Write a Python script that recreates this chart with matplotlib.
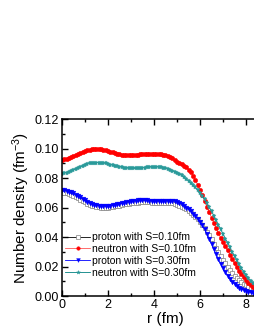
import numpy as np
import matplotlib
matplotlib.use('Agg')
import matplotlib.pyplot as plt
from matplotlib.ticker import MultipleLocator, FormatStrFormatter

plt.rcParams['font.family'] = ['Liberation Sans', 'DejaVu Sans']
plt.rcParams['mathtext.default'] = 'regular'

# radius grid (fm), 0.0 ... 8.5
r = np.round(np.arange(86) * 0.1, 1)

proton_s010 = [
    0.0702, 0.0700, 0.0697, 0.0692, 0.0686, 0.0679, 0.0671, 0.0662, 0.0653, 0.0644,
    0.0635, 0.0627, 0.0620, 0.0614, 0.0609, 0.0605, 0.0602, 0.0600, 0.0599, 0.0599,
    0.0600, 0.0602, 0.0605, 0.0608, 0.0611, 0.0614, 0.0618, 0.0621, 0.0624, 0.0627,
    0.0629, 0.0631, 0.0633, 0.0634, 0.0635, 0.0636, 0.0636, 0.0636, 0.0635, 0.0634,
    0.0633, 0.0632, 0.0632, 0.0632, 0.0632, 0.0632, 0.0631, 0.0630, 0.0628, 0.0625,
    0.0620, 0.0614, 0.0606, 0.0597, 0.0587, 0.0576, 0.0564, 0.0551, 0.0537, 0.0521,
    0.0503, 0.0483, 0.0461, 0.0437, 0.0411, 0.0384, 0.0356, 0.0328, 0.0300, 0.0273,
    0.0247, 0.0222, 0.0199, 0.0177, 0.0157, 0.0139, 0.0123, 0.0108, 0.0095, 0.0083,
    0.0073, 0.0064, 0.0056, 0.0049, 0.0043, 0.0038]

neutron_s010 = [
    0.0925, 0.0928, 0.0932, 0.0937, 0.0943, 0.0950, 0.0957, 0.0964, 0.0971, 0.0978,
    0.0984, 0.0989, 0.0993, 0.0996, 0.0998, 0.0998, 0.0997, 0.0995, 0.0992, 0.0988,
    0.0984, 0.0979, 0.0974, 0.0969, 0.0965, 0.0962, 0.0959, 0.0957, 0.0956, 0.0956,
    0.0956, 0.0957, 0.0958, 0.0960, 0.0961, 0.0963, 0.0964, 0.0965, 0.0966, 0.0966,
    0.0966, 0.0965, 0.0963, 0.0961, 0.0958, 0.0954, 0.0949, 0.0942, 0.0933, 0.0922,
    0.0912, 0.0902, 0.0893, 0.0884, 0.0873, 0.0858, 0.0840, 0.0816, 0.0787, 0.0754,
    0.0719, 0.0682, 0.0644, 0.0606, 0.0568, 0.0531, 0.0495, 0.0460, 0.0426, 0.0394,
    0.0364, 0.0338, 0.0310, 0.0281, 0.0251, 0.0222, 0.0195, 0.0170, 0.0147, 0.0126,
    0.0107, 0.0090, 0.0076, 0.0063, 0.0052, 0.0043]

proton_s030 = [
    0.0719, 0.0717, 0.0714, 0.0709, 0.0703, 0.0696, 0.0688, 0.0679, 0.0669, 0.0659,
    0.0649, 0.0640, 0.0632, 0.0625, 0.0619, 0.0615, 0.0612, 0.0610, 0.0609, 0.0609,
    0.0610, 0.0612, 0.0615, 0.0618, 0.0621, 0.0625, 0.0629, 0.0633, 0.0637, 0.0640,
    0.0643, 0.0645, 0.0647, 0.0648, 0.0649, 0.0649, 0.0649, 0.0648, 0.0647, 0.0646,
    0.0645, 0.0644, 0.0644, 0.0645, 0.0646, 0.0647, 0.0647, 0.0647, 0.0646, 0.0645,
    0.0641, 0.0634, 0.0624, 0.0612, 0.0600, 0.0588, 0.0574, 0.0559, 0.0543, 0.0525,
    0.0504, 0.0480, 0.0454, 0.0424, 0.0390, 0.0354, 0.0318, 0.0283, 0.0250, 0.0218,
    0.0189, 0.0162, 0.0138, 0.0117, 0.0098, 0.0082, 0.0068, 0.0057, 0.0048, 0.0040,
    0.0034, 0.0029, 0.0024, 0.0021, 0.0018, 0.0015]

neutron_s030 = [
    0.0830, 0.0833, 0.0837, 0.0842, 0.0848, 0.0855, 0.0862, 0.0869, 0.0876, 0.0884,
    0.0890, 0.0895, 0.0899, 0.0902, 0.0904, 0.0905, 0.0905, 0.0904, 0.0902, 0.0899,
    0.0895, 0.0891, 0.0887, 0.0883, 0.0879, 0.0876, 0.0873, 0.0870, 0.0868, 0.0867,
    0.0866, 0.0866, 0.0866, 0.0867, 0.0868, 0.0869, 0.0871, 0.0872, 0.0874, 0.0875,
    0.0876, 0.0876, 0.0875, 0.0873, 0.0870, 0.0866, 0.0861, 0.0856, 0.0850, 0.0844,
    0.0837, 0.0828, 0.0818, 0.0807, 0.0795, 0.0782, 0.0768, 0.0753, 0.0737, 0.0720,
    0.0700, 0.0678, 0.0655, 0.0630, 0.0603, 0.0575, 0.0545, 0.0514, 0.0483, 0.0452,
    0.0421, 0.0390, 0.0360, 0.0330, 0.0300, 0.0270, 0.0243, 0.0216, 0.0190, 0.0165,
    0.0143, 0.0123, 0.0105, 0.0089, 0.0075, 0.0063]

labels = ['proton with S=0.10fm', 'neutron with S=0.10fm',
          'proton with S=0.30fm', 'neutron with S=0.30fm']

fig = plt.figure(figsize=(2.55, 3.3), dpi=100)
# axes run past the right edge of the figure, as in the original crop
ax = fig.add_axes([0.243, 0.103, 0.812, 0.536])

ax.plot(r, proton_s010, color='k', lw=0.6, marker='s', ms=3.0,
        mfc='white', mec='#808080', mew=0.5, label=labels[0])
ax.plot(r, neutron_s010, color='#ff5555', lw=0.6, marker='o', ms=3.2,
        mfc='red', mec='red', mew=0.3, label=labels[1])
ax.plot(r, proton_s030, color='blue', lw=0.6, marker='v', ms=3.4,
        mfc='blue', mec='blue', mew=0.3, label=labels[2])
ax.plot(r, neutron_s030, color='#008080', lw=0.6, marker='*', ms=3.6,
        mfc='#2a9a9a', mec='#2a9a9a', mew=0.3, label=labels[3])

ax.set_xlim(0, 9)
ax.set_ylim(0, 0.12)
ax.xaxis.set_major_locator(MultipleLocator(2))
ax.xaxis.set_minor_locator(MultipleLocator(1))
ax.yaxis.set_major_locator(MultipleLocator(0.02))
ax.yaxis.set_minor_locator(MultipleLocator(0.01))
ax.yaxis.set_major_formatter(FormatStrFormatter('%.2f'))
ax.tick_params(which='both', direction='in', top=True, right=True,
               labelsize=9, width=1, pad=2)
ax.tick_params(which='major', length=4)
ax.tick_params(which='minor', length=2.5)
for s in ax.spines.values():
    s.set_linewidth(1.1)

ax.set_xlabel('r (fm)', fontsize=11, labelpad=1)
ax.set_ylabel('Number density (fm$^{-3}$)', fontsize=11, labelpad=2)

leg = ax.legend(loc='lower left', bbox_to_anchor=(0.0, 0.085), frameon=False,
                fontsize=7.5, handlelength=2.4, handletextpad=0.15,
                labelspacing=0.18, borderpad=0.3, borderaxespad=0.0,
                markerscale=0.8)

fig.savefig('out.png', dpi=100)
